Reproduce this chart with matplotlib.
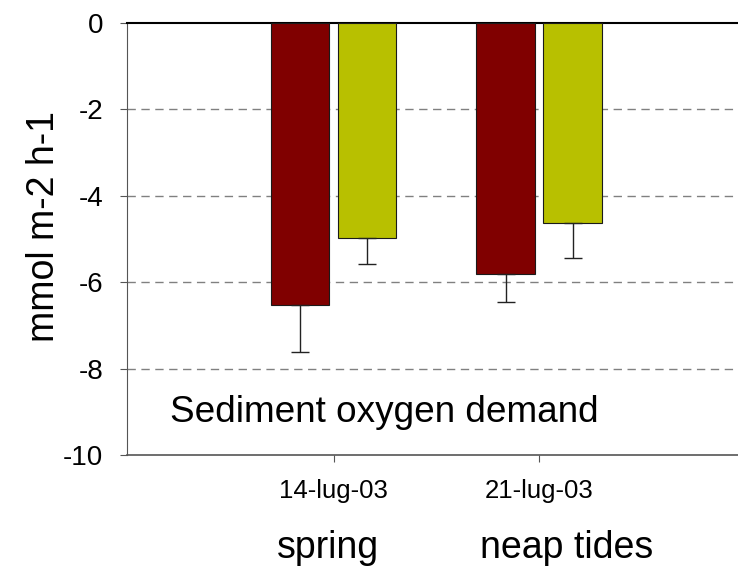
import matplotlib
matplotlib.use("Agg")
import matplotlib.pyplot as plt
import numpy as np

plt.rcParams['font.family'] = ['Liberation Sans', 'DejaVu Sans']

# sediment oxygen demand (mmol m-2 h-1), two series per date
dates = ['14-lug-03', '21-lug-03']
tide_labels = ['spring', 'neap tides']
series_a = [-6.53, -5.81]
series_a_err = [1.09, 0.65]
series_b = [-4.98, -4.63]
series_b_err = [0.60, 0.81]

W, H = 738, 567
fig = plt.figure(figsize=(W / 100, H / 100), dpi=100)
ax = fig.add_axes([127 / W, 112 / H, 611 / W, 432 / H])

x = np.arange(len(dates))
w = 0.285
off = 0.163

ax.bar(x - off, series_a, w, color='#800000', edgecolor='#1a1a1a', linewidth=0.8, zorder=3)
ax.bar(x + off, series_b, w, color='#B8C000', edgecolor='#1a1a1a', linewidth=0.8, zorder=3)

# only the lower half of each error bar is shown
ax.errorbar(x - off, series_a, yerr=[series_a_err, [0, 0]], fmt='none',
            ecolor='#222222', elinewidth=1, capsize=6.5, capthick=1, zorder=4)
ax.errorbar(x + off, series_b, yerr=[series_b_err, [0, 0]], fmt='none',
            ecolor='#222222', elinewidth=1, capsize=6.5, capthick=1, zorder=4)

ax.set_ylim(-10, 0)
ax.set_xlim(-1.005, 1.968)
ax.set_yticks([0, -2, -4, -6, -8, -10])
ax.set_yticklabels(['0', '-2', '-4', '-6', '-8', '-10'], fontsize=20)
for yv in [-2, -4, -6, -8]:
    ax.axhline(yv, color='#808080', linestyle=(0, (6, 4)), linewidth=1, zorder=1)

ax.set_xticks(x)
ax.set_xticklabels(dates, fontsize=18.5)
ax.tick_params(axis='x', length=5, pad=12, color='#555555')
ax.tick_params(axis='y', length=5, pad=12, color='#555555')

ax.spines['right'].set_visible(False)
ax.spines['left'].set_color('#555555')
ax.spines['top'].set_color('black')
ax.spines['top'].set_linewidth(1.5)
ax.spines['bottom'].set_color('#555555')
ax.spines['bottom'].set_linewidth(1.2)

fig.text(44 / W, 1 - 226 / H, 'mmol m-2 h-1', fontsize=27, rotation=90,
         ha='center', va='center')

for xc, lab in zip([328, 567], tide_labels):
    fig.text(xc / W, 1 - 548 / H, lab, fontsize=27, ha='center', va='center')

fig.text(170 / W, 1 - 422 / H, 'Sediment oxygen demand', fontsize=26.6,
         ha='left', va='baseline')

fig.savefig('out.png', dpi=100)
